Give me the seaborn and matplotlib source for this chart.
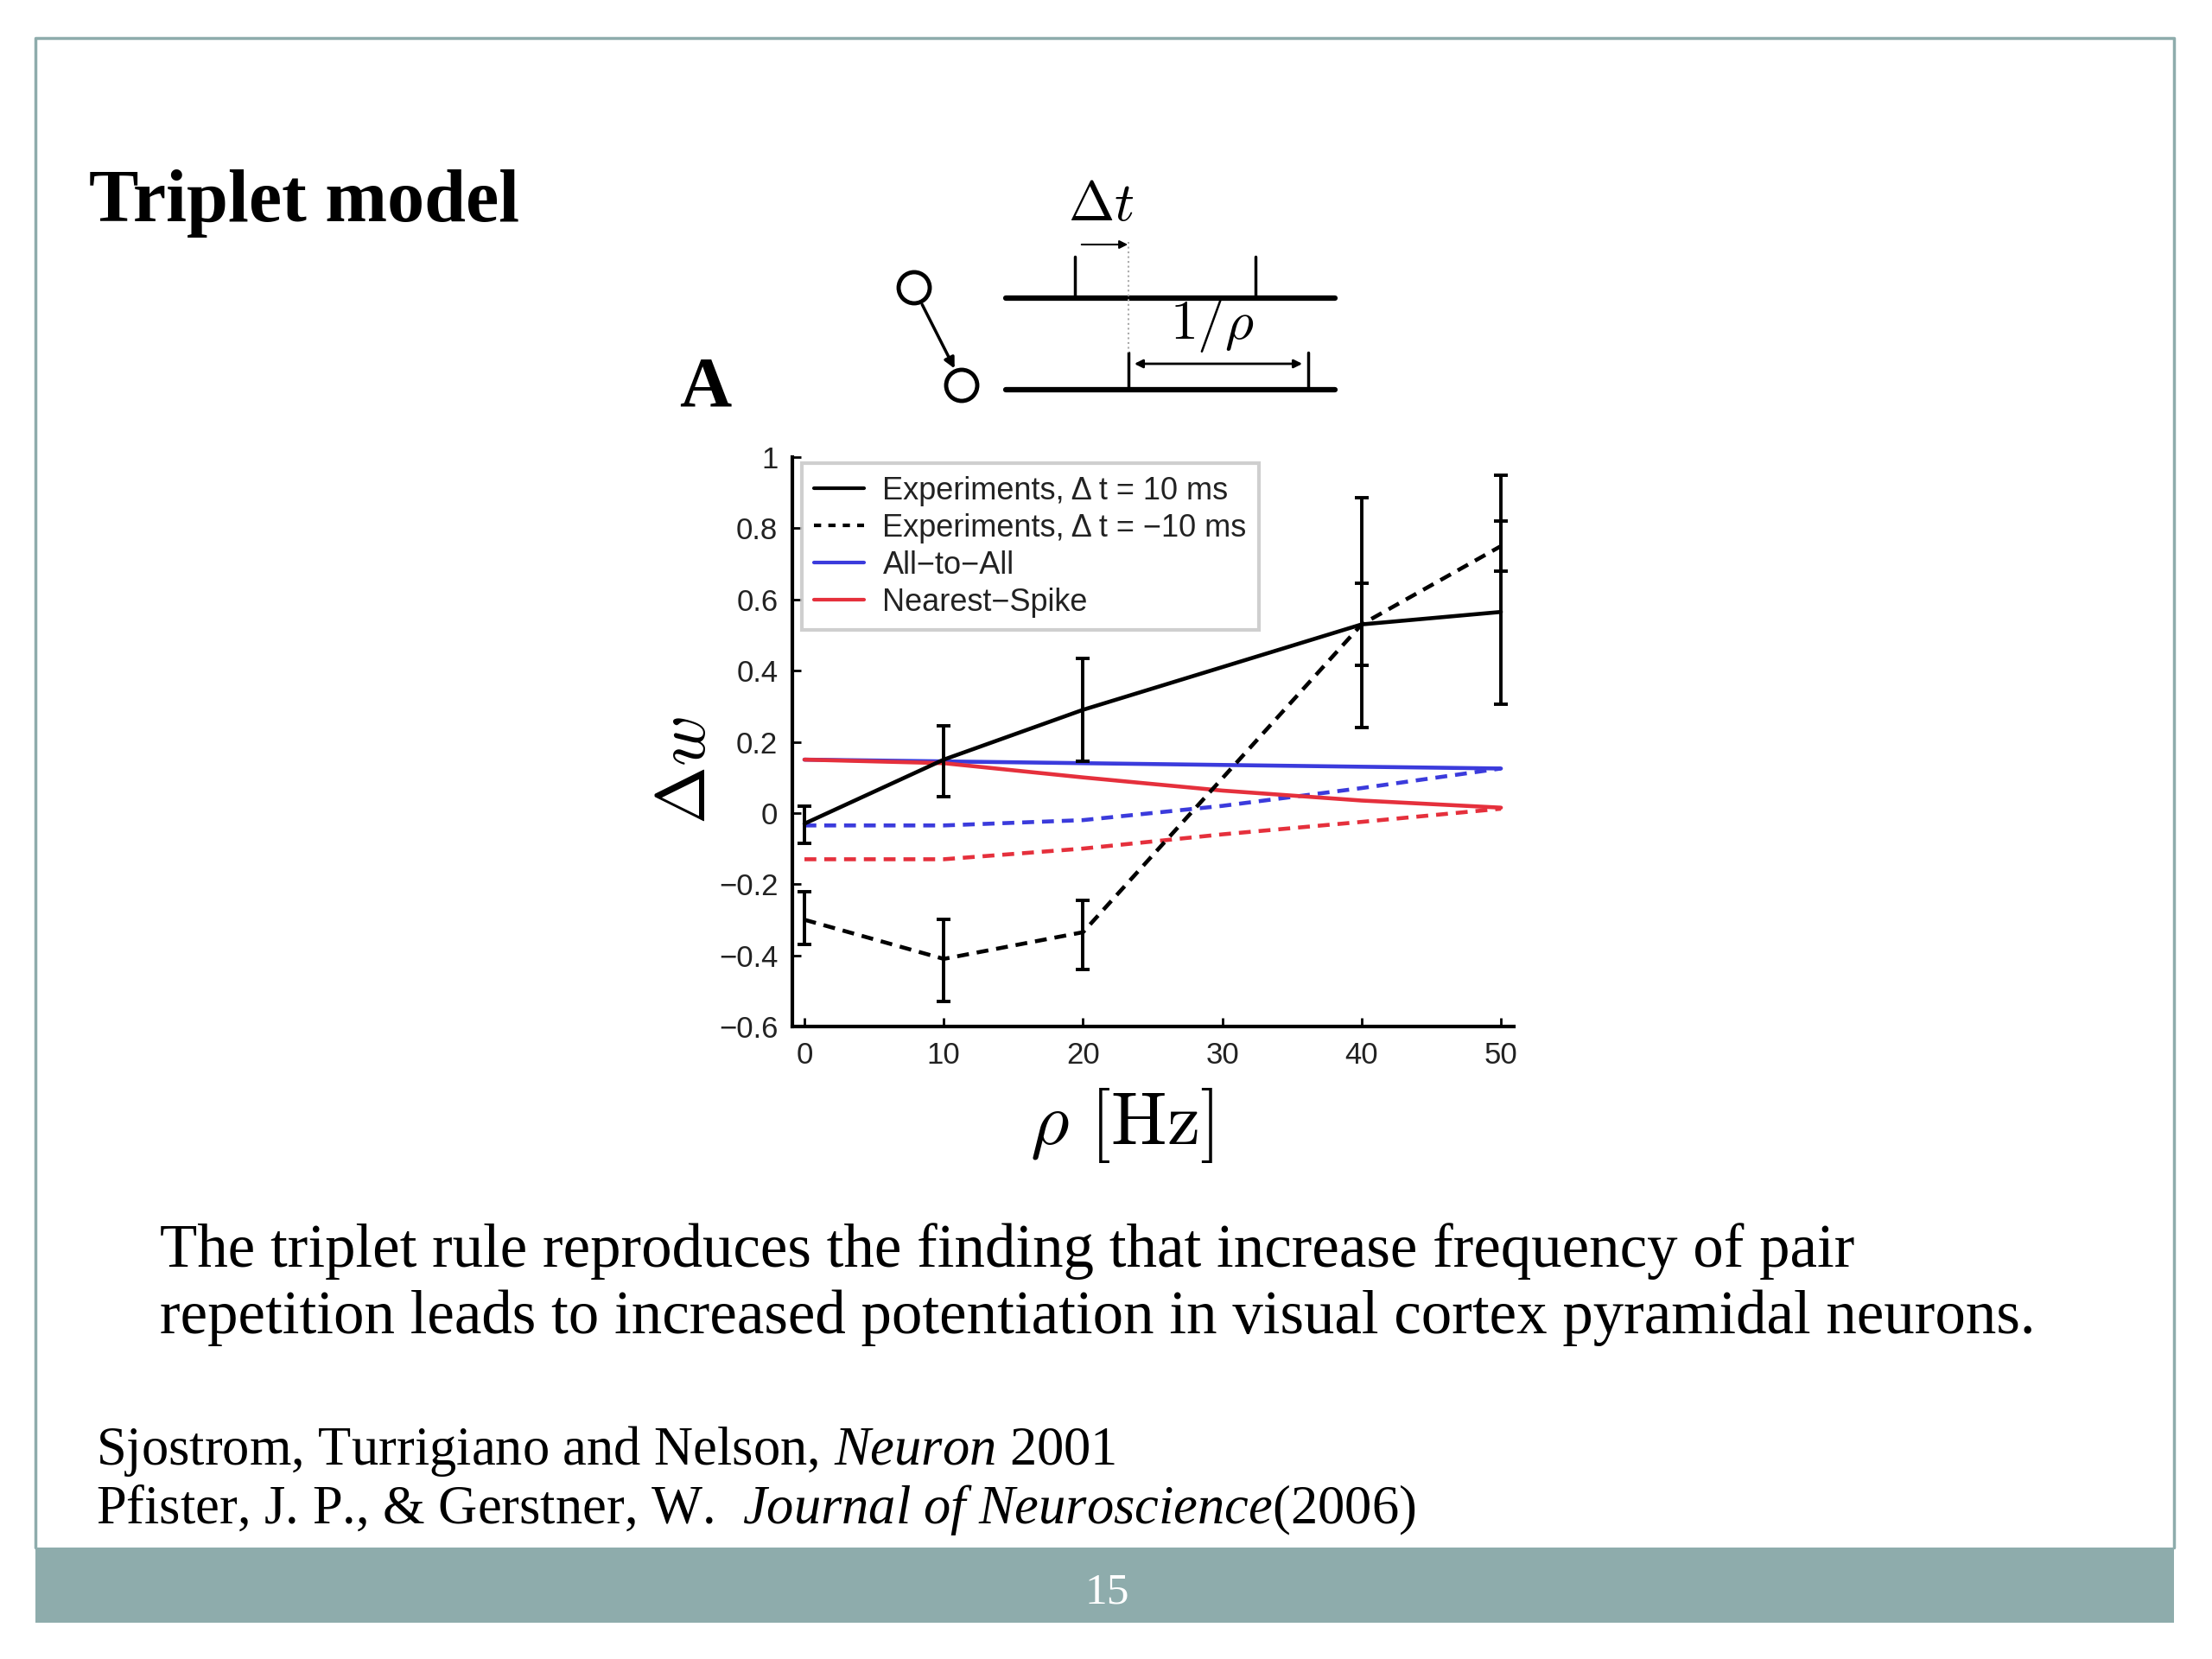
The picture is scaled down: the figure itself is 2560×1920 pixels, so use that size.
import matplotlib
matplotlib.use("Agg")
import matplotlib.pyplot as plt
import pandas as pd
import seaborn as sns
from matplotlib.lines import Line2D
from matplotlib.patches import Circle, Rectangle, FancyArrowPatch

# --- data ---
rates_exp = [0, 10, 20, 40, 50]
exp_pos_mean = [-0.03, 0.15, 0.29, 0.53, 0.565]
exp_pos_low = [-0.085, 0.045, 0.145, 0.24, 0.305]
exp_pos_high = [0.02, 0.245, 0.435, 0.885, 0.95]
exp_neg_mean = [-0.30, -0.41, -0.335, 0.53, 0.75]
exp_neg_low = [-0.37, -0.53, -0.44, 0.415, 0.68]
exp_neg_high = [-0.22, -0.30, -0.245, 0.645, 0.82]

rates_model = [0, 10, 20, 30, 40, 50]
ata_pos = [0.15, 0.145, 0.14, 0.135, 0.13, 0.125]
ns_pos = [0.15, 0.14, 0.10, 0.063, 0.035, 0.015]
ata_neg = [-0.035, -0.035, -0.02, 0.02, 0.07, 0.125]
ns_neg = [-0.13, -0.13, -0.10, -0.06, -0.025, 0.012]

x_ticks = [0, 10, 20, 30, 40, 50]
y_ticks = [-0.6, -0.4, -0.2, 0, 0.2, 0.4, 0.6, 0.8, 1.0]
y_tick_labels = ["\u22120.6", "\u22120.4", "\u22120.2", "0", "0.2", "0.4", "0.6", "0.8", "1"]
legend_labels = ["Experiments, \u0394 t = 10 ms", "Experiments, \u0394 t = \u221210 ms",
                 "All\u2212to\u2212All", "Nearest\u2212Spike"]

title = "Triplet model"
body_lines = ["The triplet rule reproduces the finding that increase frequency of pair",
              "repetition leads to increased potentiation in visual cortex pyramidal neurons."]
ref_lines = [r"Sjostrom, Turrigiano and Nelson, $\mathit{Neuron}$ 2001",
             r"Pfister, J. P., & Gerstner, W.  $\mathit{Journal\ of\ Neuroscience}$(2006)"]
page_no = "15"

BLUE = "#3b3bdc"
RED = "#e5303c"
FRAME = "#8eacac"
SERIF = ["Liberation Serif", "DejaVu Serif"]

sns.set_theme(style="ticks")
plt.rcParams["font.family"] = ["Liberation Sans", "DejaVu Sans"]
plt.rcParams["mathtext.fontset"] = "custom"
plt.rcParams["mathtext.rm"] = "Liberation Serif"
plt.rcParams["mathtext.it"] = "Liberation Serif:italic"
for key in ("text.color", "axes.labelcolor", "xtick.color", "ytick.color"):
    plt.rcParams[key] = "black"

fig = plt.figure(figsize=(25.6, 19.2), dpi=100)
fig.patch.set_facecolor("white")

# slide layer in pixel coordinates
deco = fig.add_axes([0, 0, 1, 1], zorder=0)
deco.set_xlim(0, 2560)
deco.set_ylim(1920, 0)
deco.axis("off")

deco.plot([41, 41, 2516, 2516], [1791, 44, 44, 1791], color=FRAME, lw=2.5)
deco.add_patch(Rectangle((41, 1791), 2475, 87, color=FRAME, lw=0))
deco.text(1281, 1843, page_no, color="white", fontsize=37, family=SERIF,
          ha="center", va="center")

deco.text(103, 256, title, family=SERIF, weight="bold", fontsize=62, va="baseline")
for i, line in enumerate(body_lines):
    deco.text(185, 1466 + 77 * i, line, family=SERIF, fontsize=51, va="baseline")
for i, line in enumerate(ref_lines):
    deco.text(111, 1695 + 68 * i, line, family=SERIF, fontsize=45, va="baseline")

# pair-protocol sketch
deco.text(786, 469, "A", family=SERIF, weight="bold", fontsize=60, va="baseline")
deco.add_patch(Circle((1058, 333), 18, fill=False, ec="black", lw=3.5))
deco.add_patch(Circle((1113, 446), 18, fill=False, ec="black", lw=3.5))
deco.add_patch(FancyArrowPatch((1066, 350), (1106, 429), arrowstyle="-|>",
                               mutation_scale=18, lw=2.5, color="black"))
deco.plot([1164, 1545], [345, 345], color="black", lw=4.5)
deco.plot([1164, 1545], [451, 451], color="black", lw=4.5)
for sx in (1244, 1453):
    deco.plot([sx, sx], [345, 297], color="black", lw=2.5)
for sx in (1306, 1514):
    deco.plot([sx, sx], [451, 408], color="black", lw=2.5)
deco.plot([1306, 1306], [280, 408], color="#aaaaaa", lw=1.5, ls=":")
deco.add_patch(FancyArrowPatch((1249, 283), (1308, 283), arrowstyle="-|>",
                               mutation_scale=14, lw=1.5, color="black"))
deco.add_patch(FancyArrowPatch((1310, 421), (1510, 421), arrowstyle="<|-|>",
                               mutation_scale=14, lw=2, color="black"))
deco.text(1274, 238, r"$\Delta t$", math_fontfamily="cm", fontsize=46,
          ha="center", va="center")
deco.text(1403, 376, r"$1/\rho$", math_fontfamily="cm", fontsize=46,
          ha="center", va="center")

# main plot
ax = fig.add_axes([0.3582, 0.38125, 0.3262, 0.3432], zorder=2)

model_df = pd.DataFrame({
    "rate": rates_model * 4,
    "dw": ata_pos + ns_pos + ata_neg + ns_neg,
    "model": ["All-to-All"] * 6 + ["Nearest-Spike"] * 6 + ["All-to-All"] * 6 + ["Nearest-Spike"] * 6,
    "protocol": ["+10"] * 12 + ["-10"] * 12,
})
sns.lineplot(data=model_df, x="rate", y="dw", hue="model", style="protocol",
             palette={"All-to-All": BLUE, "Nearest-Spike": RED},
             dashes={"+10": "", "-10": (3, 2)}, linewidth=3.3,
             estimator=None, legend=False, ax=ax)

sns.lineplot(x=rates_exp, y=exp_pos_mean, color="black", linewidth=3.3, ax=ax)
sns.lineplot(x=rates_exp, y=exp_neg_mean, color="black", linewidth=3.3,
             linestyle=(0, (3, 2)), ax=ax)
for mean, low, high in ((exp_pos_mean, exp_pos_low, exp_pos_high),
                        (exp_neg_mean, exp_neg_low, exp_neg_high)):
    err = [[m - l for m, l in zip(mean, low)], [h - m for m, h in zip(mean, high)]]
    ax.errorbar(rates_exp, mean, yerr=err, fmt="none", ecolor="black",
                elinewidth=2.8, capsize=6, capthick=2.8, zorder=5)

ax.set_xlim(-0.87, 50.93)
ax.set_ylim(-0.6, 1.0)
ax.set_xticks(x_ticks)
ax.set_yticks(y_ticks)
ax.set_yticklabels(y_tick_labels)
ax.tick_params(direction="in", length=7, width=2, labelsize=25, pad=12,
               colors="black", labelcolor="#222222")
sns.despine(ax=ax)
for side in ("left", "bottom"):
    ax.spines[side].set_linewidth(3)
    ax.spines[side].set_color("black")

ax.set_xlabel(r"$\rho\ [\mathrm{Hz}]$", fontsize=62, math_fontfamily="cm")
ax.set_ylabel(r"$\Delta w$", fontsize=58, math_fontfamily="cm")
ax.xaxis.set_label_coords(0.456, -0.105)
ax.yaxis.set_label_coords(-0.10, 0.45)

handles = [Line2D([], [], color="black", lw=3),
           Line2D([], [], color="black", lw=3, ls=(0, (2, 2))),
           Line2D([], [], color=BLUE, lw=3),
           Line2D([], [], color=RED, lw=3)]
leg = ax.legend(handles, legend_labels, loc="upper left", bbox_to_anchor=(0.004, 1.0),
                fontsize=26, frameon=True, fancybox=False, edgecolor="#c4c4c4",
                handlelength=1.6, borderpad=0.4, labelspacing=0.22, handletextpad=0.6,
                borderaxespad=0.2)
leg.get_frame().set_linewidth(3)
for t in leg.get_texts():
    t.set_color("#222222")

fig.savefig("out.png", dpi=100)
